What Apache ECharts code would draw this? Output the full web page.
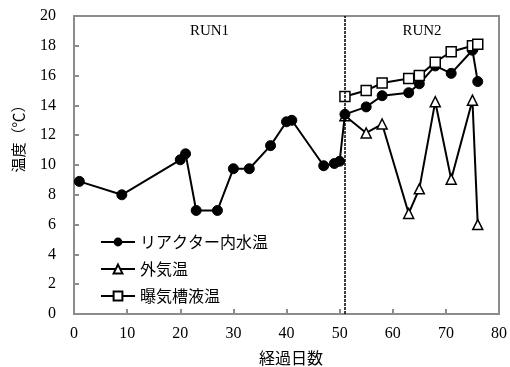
<!DOCTYPE html>
<html><head><meta charset="utf-8">
<script src="https://cdn.jsdelivr.net/npm/echarts@6/dist/echarts.min.js"></script>
<style>html,body{margin:0;padding:0;background:#fff}#c{width:510px;height:367px}</style>
</head><body><div id="c"></div>
<script>
const reactorDays = [1, 9, 20, 21, 23, 27, 30, 33, 37, 40, 41, 47, 49, 50, 51, 55, 58, 63, 65, 68, 71, 75, 76];
const reactorTemp = [8.9, 8.0, 10.35, 10.75, 6.95, 6.95, 9.75, 9.75, 11.3, 12.9, 13.0, 9.95, 10.1, 10.25, 13.4, 13.9, 14.65, 14.85, 15.45, 16.65, 16.15, 17.7, 15.6];
const run2Days = [51, 55, 58, 63, 65, 68, 71, 75, 76];
const airTemp = [13.3, 12.15, 12.75, 6.75, 8.4, 14.25, 9.05, 14.35, 6.0];
const tankTemp = [14.6, 15.0, 15.5, 15.8, 16.0, 16.9, 17.6, 18.0, 18.1];
const seriesNames = ['リアクター内水温', '外気温', '曝気槽液温'];
const runBoundaryDay = 51;
const runLabels = ['RUN1', 'RUN2'];
const runLabelDays = [25.5, 65.5];
const xTicks = [0, 10, 20, 30, 40, 50, 60, 70, 80];
const yTicks = [0, 2, 4, 6, 8, 10, 12, 14, 16, 18, 20];

const serif = '"Liberation Serif","Times New Roman",serif';
const jp = '"Noto Sans CJK JP",sans-serif';
const pair = (xs, ys) => xs.map((x, i) => [x, ys[i]]);

const chart = echarts.init(document.getElementById('c'), null, {renderer: 'canvas'});
const lineStyle = {color: '#000', width: 2};
chart.setOption({
  animation: false,
  grid: {left: 74, right: 10, top: 16, bottom: 53, show: true, borderColor: '#8c8c8c', borderWidth: 2, backgroundColor: 'transparent'},
  xAxis: {
    type: 'value', min: xTicks[0], max: xTicks[xTicks.length - 1], interval: 10,
    axisLine: {show: true, lineStyle: {color: '#8c8c8c', width: 2}},
    axisTick: {show: true, inside: true, length: 5, lineStyle: {color: '#8c8c8c', width: 2}},
    axisLabel: {color: '#000', fontFamily: serif, fontSize: 16, margin: 12},
    splitLine: {show: false}
  },
  yAxis: {
    type: 'value', min: yTicks[0], max: yTicks[yTicks.length - 1], interval: 2,
    axisLine: {show: true, lineStyle: {color: '#8c8c8c', width: 2}},
    axisTick: {show: true, inside: true, length: 5, lineStyle: {color: '#8c8c8c', width: 2}},
    axisLabel: {color: '#000', fontFamily: serif, fontSize: 16, margin: 18},
    splitLine: {show: false}
  },
  legend: {
    orient: 'vertical', left: 95, top: 229, itemWidth: 34, itemHeight: 11, itemGap: 11,
    textStyle: {fontFamily: jp, fontSize: 16, color: '#000'},
    data: seriesNames
  },
  series: [
    {
      name: seriesNames[0], type: 'line', data: pair(reactorDays, reactorTemp),
      symbol: 'circle', symbolSize: 10, itemStyle: {color: '#000', borderColor: '#000'},
      lineStyle: lineStyle, z: 3,
      markLine: {
        silent: true, symbol: 'none', label: {show: false},
        lineStyle: {color: '#000', type: [3, 1], width: 1.5},
        data: [{xAxis: runBoundaryDay}]
      }
    },
    {
      name: seriesNames[1], type: 'line', data: pair(run2Days, airTemp),
      symbol: 'triangle', symbolSize: 10, itemStyle: {color: '#fff', borderColor: '#000', borderWidth: 1.5},
      lineStyle: lineStyle, z: 2
    },
    {
      name: seriesNames[2], type: 'line', data: pair(run2Days, tankTemp),
      symbol: 'rect', symbolSize: 10, itemStyle: {color: '#fff', borderColor: '#000', borderWidth: 1.5},
      lineStyle: lineStyle, z: 4
    }
  ]
});

const g = [];
runLabels.forEach((t, i) => {
  const p = chart.convertToPixel({gridIndex: 0}, [runLabelDays[i], 19]);
  g.push({type: 'text', x: p[0], y: 31, style: {text: t, font: '15px ' + serif, fill: '#000', align: 'center', verticalAlign: 'middle'}});
});
g.push({type: 'text', x: 291, y: 358, style: {text: '経過日数', font: '16px ' + jp, fill: '#000', align: 'center', verticalAlign: 'middle'}});
g.push({type: 'text', x: 18, y: 135, rotation: Math.PI / 2, style: {text: '温度（℃）', font: '15px ' + jp, fill: '#000', align: 'center', verticalAlign: 'middle'}});
chart.setOption({graphic: g});
</script></body></html>
